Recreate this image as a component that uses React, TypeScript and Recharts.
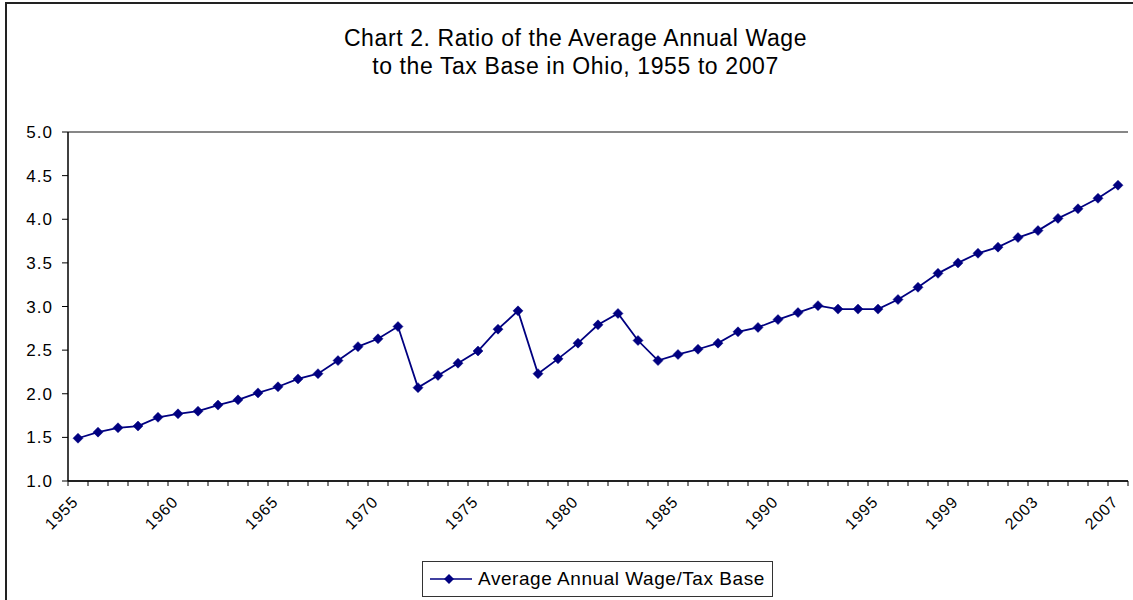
import React from 'react';
import { LineChart, Line, XAxis, YAxis, CartesianGrid, Legend } from 'recharts';

const years = [
  1955, 1956, 1957, 1958, 1959, 1960, 1961, 1962, 1963, 1964,
  1965, 1966, 1967, 1968, 1969, 1970, 1971, 1972, 1973, 1974,
  1975, 1976, 1977, 1978, 1979, 1980, 1981, 1982, 1983, 1984,
  1985, 1986, 1987, 1988, 1989, 1990, 1991, 1992, 1993, 1994,
  1995, 1996, 1997, 1998, 1999, 2000, 2001, 2002, 2003, 2004,
  2005, 2006, 2007,
];

const ratio = [
  1.49, 1.56, 1.61, 1.63, 1.73, 1.77, 1.80, 1.87, 1.93, 2.01,
  2.08, 2.17, 2.23, 2.38, 2.54, 2.63, 2.77, 2.07, 2.21, 2.35,
  2.49, 2.74, 2.95, 2.23, 2.40, 2.58, 2.79, 2.92, 2.61, 2.38,
  2.45, 2.51, 2.58, 2.71, 2.76, 2.85, 2.93, 3.01, 2.97, 2.97,
  2.97, 3.08, 3.22, 3.38, 3.50, 3.61, 3.68, 3.79, 3.87, 4.01,
  4.12, 4.24, 4.39,
];

const labelYears = [1955, 1960, 1965, 1970, 1975, 1980, 1985, 1990, 1995, 1999, 2003, 2007];
const yTicks = [1.0, 1.5, 2.0, 2.5, 3.0, 3.5, 4.0, 4.5, 5.0];

const seriesName = 'Average Annual Wage/Tax Base';
const titleLine1 = 'Chart 2. Ratio of the Average Annual Wage';
const titleLine2 = 'to the Tax Base in Ohio, 1955 to 2007';

const data = years.map((year, i) => ({ year, ratio: ratio[i] }));
const boundaryTicks = [...years.map((y) => y - 0.5), years[years.length - 1] + 0.5];
const xDomain = [years[0] - 0.5, years[years.length - 1] + 0.5];

const FONT = '"Liberation Sans", Arial, Helvetica, sans-serif';
const NAVY = '#000080';

const Diamond = (props: any) => {
  const { cx, cy } = props;
  if (cx == null || cy == null) return null;
  const r = 5;
  return (
    <polygon
      points={`${cx},${cy - r} ${cx + r},${cy} ${cx},${cy + r} ${cx - r},${cy}`}
      fill={NAVY}
      stroke={NAVY}
      strokeWidth={0.5}
    />
  );
};

const XTick = (props: any) => {
  const { x, y, payload } = props;
  return (
    <g transform={`translate(${x + 1},${y + 9})`}>
      <text
        x={0}
        y={0}
        textAnchor="end"
        transform="rotate(-45)"
        fontSize={16}
        letterSpacing={0.8}
        fontFamily={FONT}
        fill="#000"
      >
        {payload.value}
      </text>
    </g>
  );
};

const EmptyTick = () => <g />;

const LegendBox = () => (
  <div
    style={{
      boxSizing: 'border-box',
      width: 351,
      height: 36,
      border: '1px solid #333',
      background: '#fff',
      display: 'flex',
      alignItems: 'center',
      fontFamily: FONT,
      fontSize: 19,
      letterSpacing: 0.55,
      color: '#000',
      whiteSpace: 'nowrap',
    }}
  >
    <svg width={42} height={12} style={{ marginLeft: 7, marginRight: 6, flex: 'none' }}>
      <line x1={0} y1={6} x2={42} y2={6} stroke={NAVY} strokeWidth={1.5} />
      <polygon points="19,1 24,6 19,11 14,6" fill={NAVY} />
    </svg>
    <span>{seriesName}</span>
  </div>
);

export default function App() {
  return (
    <div
      style={{
        position: 'absolute',
        left: 0,
        top: 0,
        width: 1133,
        height: 600,
        overflow: 'hidden',
        background: '#fff',
      }}
    >
      <div
        style={{
          position: 'absolute',
          left: 5,
          top: 2,
          width: 1200,
          height: 700,
          border: '2px solid #222',
          boxSizing: 'border-box',
        }}
      />
      <div
        style={{
          position: 'absolute',
          left: 9,
          top: 24,
          width: 1133,
          textAlign: 'center',
          fontFamily: FONT,
          fontSize: 23,
          letterSpacing: 0.6,
          lineHeight: '28px',
          color: '#000',
        }}
      >
        <div>{titleLine1}</div>
        <div>{titleLine2}</div>
      </div>
      <div style={{ position: 'absolute', left: 0, top: 0 }}>
        <LineChart
          width={1133}
          height={600}
          data={data}
          margin={{ top: 132, right: 5, bottom: 33, left: 10 }}
        >
          <CartesianGrid horizontal vertical={false} stroke="#111" strokeWidth={1.2} />
          <XAxis
            xAxisId="a_ticks"
            dataKey="year"
            type="number"
            domain={xDomain}
            ticks={boundaryTicks}
            tick={<EmptyTick />}
            tickSize={5}
            height={5}
            interval={0}
            axisLine={{ stroke: '#000', strokeWidth: 1.5 }}
            tickLine={{ stroke: '#000', strokeWidth: 1 }}
            allowDataOverflow
          />
          <XAxis
            xAxisId="b_labels"
            dataKey="year"
            type="number"
            domain={xDomain}
            ticks={labelYears}
            tick={<XTick />}
            axisLine={false}
            tickLine={false}
            height={45}
            interval={0}
            allowDataOverflow
          />
          <YAxis
            yAxisId="left"
            type="number"
            domain={[1, 5]}
            ticks={yTicks}
            interval={0}
            width={58}
            tickSize={6}
            tickMargin={9}
            tickFormatter={(v: number) => v.toFixed(1)}
            tick={{ fill: '#000', fontSize: 17, fontFamily: FONT, letterSpacing: 1 }}
            axisLine={{ stroke: '#000', strokeWidth: 1.5 }}
            tickLine={{ stroke: '#000' }}
          />
          <YAxis
            yAxisId="right"
            orientation="right"
            type="number"
            domain={[1, 5]}
            width={0}
            tick={false}
            tickLine={false}
            axisLine={{ stroke: '#808080', strokeWidth: 1.5 }}
          />
          <Legend
            verticalAlign="bottom"
            content={<LegendBox />}
            wrapperStyle={{ left: 422, top: 561, width: 351, height: 36 }}
          />
          <Line
            xAxisId="a_ticks"
            yAxisId="left"
            type="linear"
            dataKey="ratio"
            name={seriesName}
            stroke={NAVY}
            strokeWidth={1.8}
            dot={<Diamond />}
            activeDot={false}
            isAnimationActive={false}
          />
        </LineChart>
      </div>
    </div>
  );
}
